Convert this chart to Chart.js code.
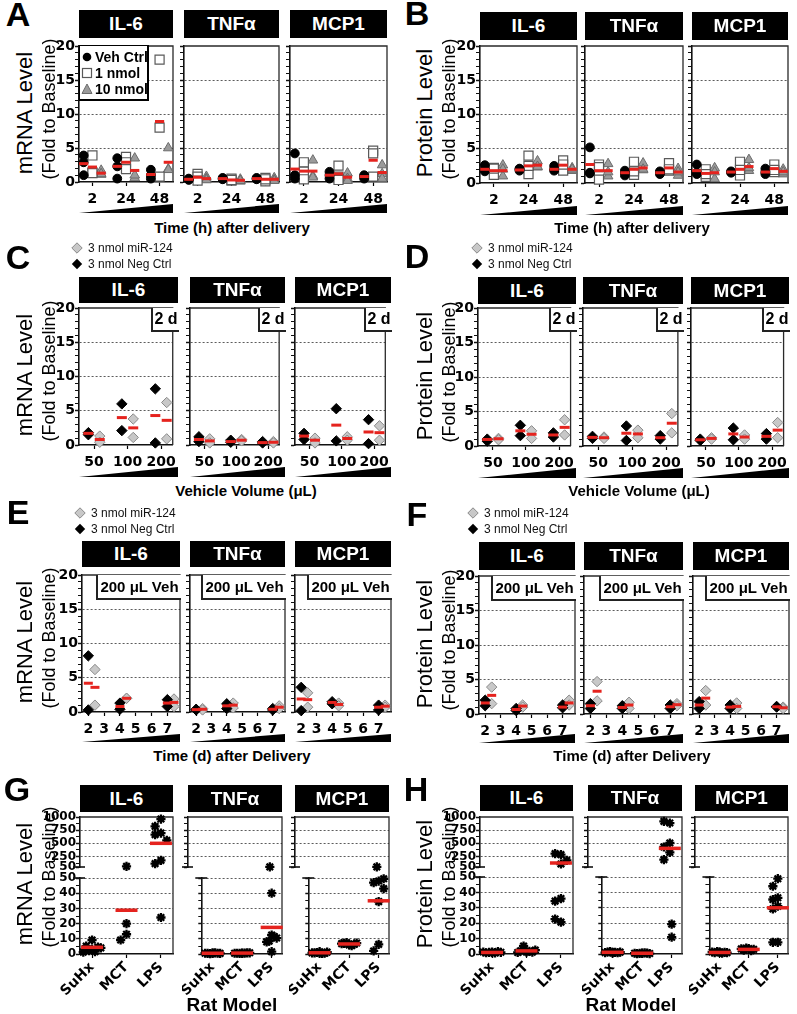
<!DOCTYPE html>
<html>
<head>
<meta charset="utf-8">
<script src="https://cdn.jsdelivr.net/npm/chart.js@4.4.1/dist/chart.umd.min.js"></script>
<style>
  body { margin: 0; background: #fff; font-family: 'Liberation Sans', Arial, Helvetica, sans-serif; }
  #fig { position: relative; width: 797px; height: 1014px; overflow: hidden; background: #fff; }
  #fig canvas { position: absolute; }
  .hdr { position: absolute; background: #000; color: #fff; font-weight: bold; font-size: 19px;
         display: flex; align-items: center; justify-content: center; }
  .letter { position: absolute; font-weight: bold; font-size: 34px; line-height: 1; transform: translate(-50%, -50%); }
  .ytitle { position: absolute; white-space: nowrap; line-height: 1; transform: translate(-50%, -50%) rotate(-90deg); }
  .xtitle { position: absolute; white-space: nowrap; font-weight: bold; font-size: 15px; line-height: 1; transform: translate(-50%, -50%); }
  .tag { position: absolute; background: #fff; border-left: 2px solid #222; border-bottom: 2px solid #222;
         font-weight: bold; font-size: 16px; display: flex; align-items: center; justify-content: center; box-sizing: border-box; }
  .lg { position: absolute; font-size: 12px; white-space: nowrap; line-height: 1; color: #111; }
  .lgrow { position: absolute; font-weight: bold; font-size: 14px; line-height: 1; white-space: nowrap; }
</style>
</head>
<body>
<div id="fig"></div>
<script>
// ---- data ----
const cytokines = ['IL-6', 'TNFα', 'MCP1'];
const hourLabels = ['2', '24', '48'];
const doseNames = ['Veh Ctrl', '1 nmol', '10 nmol'];
const volumeLabels = ['50', '100', '200'];
const treatNames = ['3 nmol miR-124', '3 nmol Neg Ctrl'];
const dayValues = [2, 4, 7];
const dayTicks = [2, 3, 4, 5, 6, 7];
const modelLabels = ['SuHx', 'MCT', 'LPS'];
const foldTicks = [0, 1, 2, 3, 4, 5, 6, 7, 8, 9, 10, 11, 12, 13, 14, 15, 16, 17, 18, 19, 20];
const foldMajor = [0, 5, 10, 15, 20];
const lowTicks = [0, 5, 10, 15, 20, 25, 30, 35, 40, 45, 50];
const lowMajor = [0, 10, 20, 30, 40, 50];
const highTicks = [50, 125, 250, 375, 500, 625, 750, 875, 1000];
const highMajor = [50, 250, 500, 750, 1000];

// A / B: [cytokine][time 2,24,48 h][Veh Ctrl, 1 nmol, 10 nmol] -> replicates
const mrnaTimePts = [
  [[[3.9, 2.9, 1.0], [3.9, 1.4, 1.3], [1.7, 1.1, 1.2]],
   [[3.5, 2.3, 0.5], [3.7, 2.9, 1.9], [3.5, 0.6, 1.0]],
   [[1.8, 0.5, 1.0], [18.0, 8.0, 0.8], [5.0, 1.9, 1.8]]],
  [[[0.5, 0.3, 0.4], [1.2, 0.8, 0.2], [0.8, 0.5, 0.3]],
   [[0.6, 0.5, 0.4], [0.5, 0.2, 0.3], [0.4, 0.1, 0.2]],
   [[0.6, 0.5, 0.4], [0.6, 0.1, 0.4], [0.6, 0.3, 0.2]]],
  [[[4.2, 1.0, 0.5], [2.9, 1.5, 0.4], [3.2, 0.9, 0.7]],
   [[1.5, 1.0, 0.5], [2.4, 0.8, 0.3], [1.3, 0.5, 0.2]],
   [[1.0, 0.8, 0.5], [4.6, 4.2, 0.8], [2.5, 1.2, 0.5]]]
];
const mrnaTimeMean = [
  [[2.7, 2.2, 1.3], [2.3, 2.9, 1.7], [1.1, 8.9, 2.9]],
  [[0.4, 0.7, 0.5], [0.5, 0.3, 0.25], [0.5, 0.4, 0.4]],
  [[1.9, 1.6, 1.6], [1.0, 1.2, 0.7], [0.8, 3.2, 1.4]]
];
const protTimePts = [
  [[[2.6, 1.7, 2.0], [2.2, 1.2, 2.1], [2.6, 1.0, 2.0]],
   [[2.1, 1.8, 2.0], [4.0, 1.3, 2.5], [3.2, 2.3, 2.4]],
   [[2.5, 1.8, 2.0], [3.3, 1.8, 2.7], [2.2, 1.8, 2.0]]],
  [[[5.2, 1.5, 1.4], [2.7, 0.5, 2.3], [2.8, 1.0, 1.6]],
   [[1.8, 1.1, 1.5], [3.1, 1.2, 1.7], [2.9, 1.9, 2.0]],
   [[1.7, 1.3, 1.5], [2.9, 1.8, 2.0], [2.1, 1.1, 1.6]]],
  [[[2.7, 1.3, 1.5], [2.0, 0.9, 1.3], [2.2, 0.6, 1.6]],
   [[1.7, 1.5, 1.6], [3.1, 1.1, 1.9], [3.4, 1.8, 2.2]],
   [[2.1, 1.3, 1.6], [2.7, 1.6, 1.9], [2.0, 1.3, 1.6]]]
];
const protTimeMean = [
  [[2.0, 1.8, 1.8], [1.9, 2.5, 2.6], [2.0, 2.6, 2.0]],
  [[2.7, 1.8, 1.8], [1.5, 2.0, 2.2], [1.5, 2.2, 1.6]],
  [[1.8, 1.4, 1.5], [1.6, 2.0, 2.4], [1.6, 2.1, 1.7]]
];

// C / D: [cytokine][volume 50,100,200 uL][Neg Ctrl, miR-124]
const mrnaVolPts = [
  [[[1.8, 1.5], [1.3, 0.4]], [[6.0, 2.1], [3.8, 1.1]], [[8.2, 0.3], [6.2, 0.9]]],
  [[[1.2, 0.5], [0.9, 0.3]], [[0.7, 0.4], [0.8, 0.6]], [[0.5, 0.3], [0.5, 0.3]]],
  [[[1.7, 0.8], [1.0, 0.3]], [[5.3, 0.6], [1.2, 0.7]], [[3.7, 0.2], [2.8, 0.7]]]
];
const mrnaVolMean = [
  [[1.7, 0.8], [4.0, 2.5], [4.3, 3.6]],
  [[0.8, 0.6], [0.5, 0.7], [0.35, 0.4]],
  [[1.3, 0.7], [2.9, 0.95], [1.9, 1.8]]
];
const protVolPts = [
  [[[1.0, 0.7], [1.1, 0.9]], [[3.0, 1.5], [2.2, 1.1]], [[1.9, 1.3], [3.8, 1.6]]],
  [[[1.4, 1.1], [1.3, 1.1]], [[2.9, 0.8], [2.3, 1.2]], [[1.5, 1.0], [4.7, 1.9]]],
  [[[1.0, 0.8], [1.2, 1.0]], [[2.6, 0.9], [1.6, 1.0]], [[1.8, 1.0], [3.4, 1.2]]]
];
const protVolMean = [
  [[0.95, 1.05], [2.2, 1.7], [1.6, 2.7]],
  [[1.25, 1.2], [1.85, 1.75], [1.2, 3.3]],
  [[0.9, 1.1], [1.75, 1.3], [1.4, 2.3]]
];

// E / F: [cytokine][day 2,4,7][Neg Ctrl, miR-124]
const mrnaDayPts = [
  [[[8.2, 0.3], [6.2, 1.0]], [[1.3, 0.4], [2.0, 2.0]], [[1.8, 0.8], [1.9, 0.8]]],
  [[[0.4, 0.3], [0.5, 0.3]], [[1.2, 0.5], [1.3, 0.6]], [[0.5, 0.3], [0.9, 0.5]]],
  [[[3.6, 0.2], [2.8, 0.7]], [[1.5, 1.2], [1.3, 0.9]], [[1.0, 0.3], [1.0, 0.7]]]
];
const mrnaDayMean = [
  [[4.2, 3.6], [0.8, 2.0], [1.3, 1.4]],
  [[0.35, 0.4], [0.9, 1.0], [0.4, 0.7]],
  [[1.9, 1.8], [1.4, 1.1], [0.7, 0.85]]
];
const protDayPts = [
  [[[2.0, 1.2], [3.9, 1.5]], [[0.8, 0.5], [1.3, 1.0]], [[1.3, 0.9], [2.0, 1.3]]],
  [[[1.5, 0.8], [4.7, 1.9]], [[1.2, 0.8], [1.7, 0.8]], [[1.3, 0.8], [1.5, 1.2]]],
  [[[1.8, 0.8], [3.4, 1.3]], [[1.3, 0.8], [1.6, 0.8]], [[1.1, 1.0], [1.0, 0.8]]]
];
const protDayMean = [
  [[1.6, 2.7], [0.65, 1.15], [1.0, 1.6]],
  [[1.2, 3.3], [0.95, 1.3], [1.05, 1.35]],
  [[1.3, 2.3], [1.0, 1.1], [1.05, 0.9]]
];

// G / H: [cytokine][SuHx, MCT, LPS] -> animals
const mrnaModelPts = [
  [[9.2, 5.2, 4.5, 3.0, 2.2, 1.5, 1.2, 4.0], [63, 20, 13, 9.2], [961, 822, 695, 664, 556, 177, 113, 24]],
  [[0.6, 0.4, 0.5, 0.3, 0.7, 0.5, 0.4, 0.6], [0.6, 0.5, 0.7, 0.4, 0.6, 0.5, 0.8, 0.5], [52, 40, 12.5, 8, 10.5, 8.5, 11.5, 1.5]],
  [[1.5, 0.8, 0.5, 1.0, 0.4, 0.7, 1.2, 0.6], [6.0, 7.0, 6.5, 7.5, 5.5, 6.8, 7.2, 6.3], [52, 48, 47, 49.5, 43, 34.5, 6.3, 2.0]]
];
const mrnaModelMean = [[4.4, 28.8, 500], [0.5, 0.6, 17.5], [0.8, 6.6, 35]];
const protModelPts = [
  [[1.2, 0.8, 1.5, 1.0, 0.7, 1.3, 1.1, 0.9], [1.5, 2.0, 1.2, 5.2, 1.8, 1.0, 2.5, 1.3], [284, 303, 177, 107, 36, 34.3, 20.7, 22.7]],
  [[1.0, 1.3, 0.8, 1.5, 1.1, 0.9, 1.2, 0.7], [0.5, 0.3, 0.6, 0.4, 0.7, 0.5, 0.3, 0.6], [885, 917, 506, 430, 328, 189, 19.4, 10.9]],
  [[1.2, 0.8, 1.0, 1.5, 0.6, 1.3, 0.9, 1.1], [3.5, 2.5, 3.0, 3.8, 2.2, 3.3], [48.9, 44, 36.5, 35.4, 31, 29.3, 7.6, 7.6]]
];
const protModelMean = [[1.0, 2.0, 126], [1.1, 0.5, 404], [1.0, 3.0, 30]];

// ---- styles / layout ----
const TICKFONT = "'DejaVu Sans', 'Liberation Sans', Arial, sans-serif";
const RED = '#e5231e';
const STY = {
  veh:  { ps: 'circle',   r: 4.4, bg: '#000',    bd: '#000',    bw: 1 },
  low:  { ps: 'rect',     r: 6.4, bg: '#fff',    bd: '#5a5a5a', bw: 1.2 },
  high: { ps: 'triangle', r: 5.6, bg: '#9b9b9b', bd: '#6c6c6c', bw: 1 },
  neg:  { ps: 'rectRot',  r: 5.2, bg: '#000',    bd: '#000',    bw: 1 },
  mir:  { ps: 'rectRot',  r: 5.2, bg: '#c8c8c8', bd: '#8a8a8a', bw: 1 },
  star: { ps: 'star',     r: 4.6, bg: '#000',    bd: '#000',    bw: 2.3 }
};

const LAY = {
  A: { xs: [[79, 173], [184, 279], [290, 387]], top: 46, bot: 182, hdr: [10, 38], wedge: [213, 9], title: [232, 227], cy: 113, cy2: 109, col: 0, letter: [18, 14] },
  B: { xs: [[480, 577], [585, 683], [692, 788]], top: 46, bot: 183, hdr: [12, 40], wedge: [215, 9], title: [632, 227], cy: 113, cy2: 109, col: 1, letter: [417, 13] },
  C: { xs: [[79, 178], [190, 285], [295, 391]], top: 308, bot: 445, hdr: [277, 303], wedge: [477, 10], title: [246, 490], cy: 375, cy2: 371, col: 0, letter: [18, 257] },
  D: { xs: [[478, 576], [583, 683], [691, 789]], top: 308, bot: 446, hdr: [277, 304], wedge: [478, 10], title: [639, 490], cy: 376, cy2: 372, col: 1, letter: [417, 256] },
  E: { xs: [[82, 180], [190, 285], [295, 391]], top: 575, bot: 712, hdr: [541, 567], wedge: [742, 8], title: [232, 755], cy: 642, cy2: 638, col: 0, letter: [18, 512] },
  F: { xs: [[479, 575], [584, 683], [693, 789]], top: 576, bot: 714, hdr: [542, 570], wedge: [743, 9], title: [632, 755], cy: 644, cy2: 640, col: 1, letter: [417, 514] },
  G: { xs: [[80, 173], [188, 282], [295, 389]], upTop: 817, upBot: 867, top: 878, bot: 954, hdr: [785, 812], title: [232, 1004], cy: 884, cy2: 877, col: 0, letter: [17, 789] },
  H: { xs: [[480, 573], [588, 682], [695, 788]], upTop: 817, upBot: 867, top: 877, bot: 954, hdr: [785, 811], title: [631, 1004], cy: 884, cy2: 877, col: 1, letter: [416, 789] }
};

const fig = document.getElementById('fig');

function div(cls, css, html) {
  const d = document.createElement('div');
  if (cls) d.className = cls;
  Object.assign(d.style, css);
  if (html !== undefined) d.innerHTML = html;
  fig.appendChild(d);
  return d;
}

// plot frame (top / right) and broken-axis caps
const framePlugin = {
  id: 'frame',
  beforeDatasetsDraw(chart, args, opts) {
    const a = chart.chartArea, ctx = chart.ctx;
    ctx.save();
    ctx.strokeStyle = '#2a2a2a';
    ctx.lineWidth = 1.3;
    ctx.beginPath();
    if (opts.top) { ctx.moveTo(a.left, a.top); ctx.lineTo(a.right + 0.65, a.top); }
    if (opts.right) { ctx.moveTo(a.right, a.top); ctx.lineTo(a.right, a.bottom + (opts.ext || 0)); }
    ctx.stroke();
    ctx.strokeStyle = '#111';
    ctx.lineWidth = 1.6;
    ctx.beginPath();
    if (opts.capTop) { ctx.moveTo(a.left - 7, a.top); ctx.lineTo(a.left + 5, a.top); }
    if (opts.capBottom) { ctx.moveTo(a.left - 7, a.bottom); ctx.lineTo(a.left + 5, a.bottom); }
    ctx.stroke();
    ctx.restore();
  }
};

function pointSet(data, st) {
  return { data, showLine: false, clip: false, pointStyle: st.ps, pointRadius: st.r,
           pointBackgroundColor: st.bg, pointBorderColor: st.bd, pointBorderWidth: st.bw };
}
function meanSet(data, r, w) {
  return { data, showLine: false, clip: false, pointStyle: 'line', pointRadius: r,
           pointBorderColor: RED, pointBackgroundColor: RED, pointBorderWidth: w || 3 };
}

function makeChart(o) {
  const W = Math.round(o.yw + o.w + o.pr), H = Math.round(o.pt + o.h + o.xh + o.pb);
  const cv = document.createElement('canvas');
  cv.width = W; cv.height = H;
  Object.assign(cv.style, { left: (o.l - o.yw) + 'px', top: (o.t - o.pt) + 'px', width: W + 'px', height: H + 'px' });
  fig.appendChild(cv);
  return new Chart(cv.getContext('2d'), {
    type: 'scatter',
    data: { datasets: o.datasets },
    plugins: [framePlugin],
    options: {
      responsive: false,
      animation: false,
      devicePixelRatio: 1,
      events: [],
      layout: { autoPadding: false, padding: { top: o.pt, right: o.pr, bottom: o.pb, left: 0 } },
      plugins: { legend: { display: false }, tooltip: { enabled: false }, frame: o.frame },
      scales: {
        x: {
          type: 'linear', display: o.xShow !== false, min: o.xMin, max: o.xMax,
          afterBuildTicks: s => { s.ticks = o.xTicks.map(v => ({ value: v })); },
          afterFit: s => { s.height = o.xh; },
          ticks: {
            autoSkip: false, minRotation: o.rot || 0, maxRotation: o.rot || 0, padding: o.xPad, color: '#000',
            font: { family: TICKFONT, size: o.xFont || 14, weight: 'bold' },
            callback: (v, i) => o.xLabels[i]
          },
          grid: { drawOnChartArea: false, tickLength: 4, tickColor: '#000', tickWidth: 1.2 },
          border: { color: '#111', width: 1.6 }
        },
        y: {
          type: 'linear', min: o.yMin, max: o.yMax,
          afterBuildTicks: s => { s.ticks = o.yTicks.map(v => ({ value: v })); },
          afterFit: s => { s.width = o.yw; },
          ticks: {
            display: o.yLabelsShow, autoSkip: false, padding: 0, color: '#000',
            font: { family: TICKFONT, size: o.yFont, weight: 'bold' },
            callback: v => (o.yMajor.includes(v) ? String(v) : '')
          },
          grid: {
            color: c => (c.tick && o.yGrid.includes(c.tick.value)) ? '#4a4a4a' : 'rgba(0,0,0,0)',
            lineWidth: 0.9,
            tickLength: 4,
            tickColor: '#111',
            tickWidth: c => (c.tick && o.yMajor.includes(c.tick.value)) ? 1.5 : 1
          },
          border: { color: '#111', width: 1.6, dash: [2, 2] }
        }
      }
    }
  });
}

// panels A-F: 0-20 fold scatter with group means
function buildFold(key, pts, means, opt) {
  const L = LAY[key];
  cytokines.forEach((cyt, c) => {
    const [x0, x1] = L.xs[c];
    const subData = opt.styles.map(() => []);
    const meanData = [];
    pts[c].forEach((grp, g) => grp.forEach((vals, s) => {
      const x = opt.subX(g, s);
      vals.forEach(v => subData[s].push({ x, y: v }));
      meanData.push({ x, y: means[c][g][s] });
    }));
    const datasets = [meanSet(meanData, opt.meanR)].concat(subData.map((d, s) => pointSet(d, STY[opt.styles[s]])));
    makeChart({
      l: x0, t: L.top, w: x1 - x0, h: L.bot - L.top, yw: c === 0 ? 40 : 6, pt: 10, pr: 3, pb: 0, xh: 32,
      xMin: opt.xMin, xMax: opt.xMax, xTicks: opt.xTicks, xLabels: opt.xLabels, xPad: 5, xFont: opt.xFont,
      yMin: 0, yMax: 20, yTicks: foldTicks, yMajor: foldMajor, yGrid: [5, 10, 15], yLabelsShow: c === 0, yFont: 14,
      datasets, frame: { top: true, right: true }
    });
  });
}

// horizontal spread of overlapping animals inside one group
function spread(vals, g, thr) {
  const slots = [0, -1, 1, -0.5, 0.5, -1.5, 1.5];
  const placed = [];
  return vals.map(v => {
    const near = placed.filter(p => Math.abs(p.y - v) < thr);
    let off = 0;
    for (const s of slots) {
      if (!near.some(p => p.o === s)) { off = s; break; }
    }
    placed.push({ y: v, o: off });
    return { x: g + off * 0.17, y: v };
  });
}

// panels G-H: broken y axis (0-50 / 50-1000)
function buildBroken(key, pts, means) {
  const L = LAY[key];
  cytokines.forEach((cyt, c) => {
    const [x0, x1] = L.xs[c];
    const segs = [
      { lo: 50, hi: 1000, t: L.upTop, b: L.upBot, upper: true },
      { lo: 0, hi: 50, t: L.top, b: L.bot, upper: false }
    ];
    segs.forEach(sg => {
      const inSeg = v => (sg.upper ? v > 50 : v <= 50);
      const thr = (sg.hi - sg.lo) / (sg.b - sg.t) * 8;
      let stars = [];
      const meanData = [];
      pts[c].forEach((vals, g) => {
        stars = stars.concat(spread(vals.filter(inSeg), g, thr));
        if (inSeg(means[c][g])) meanData.push({ x: g, y: means[c][g] });
      });
      const base = {
        l: x0, t: sg.t, w: x1 - x0, h: sg.b - sg.t, yw: c === 0 ? 40 : 6, pr: 3,
        xMin: -0.35, xMax: 2.35, xTicks: [0, 1, 2], xLabels: modelLabels, yLabelsShow: c === 0, yFont: 12,
        datasets: [meanSet(meanData, 11, 3.5), pointSet(stars, STY.star)]
      };
      if (sg.upper) {
        makeChart(Object.assign(base, {
          pt: 8, pb: L.top - L.upBot + 2, xh: 0, xShow: false,
          yMin: 50, yMax: 1000, yTicks: highTicks, yMajor: highMajor, yGrid: [250, 500, 750],
          frame: { top: true, right: true, ext: L.top - L.upBot, capBottom: true }
        }));
      } else {
        makeChart(Object.assign(base, {
          pt: 8, pb: 0, xh: 50, rot: 45, xPad: 1, xFont: 14,
          yMin: 0, yMax: 50, yTicks: lowTicks, yMajor: lowMajor, yGrid: [10, 20, 30, 40, 50],
          frame: { right: true, capTop: true }
        }));
      }
    });
  });
}

const timeOpt = { styles: ['veh', 'low', 'high'], subX: (g, s) => g + (s - 1) * 0.26, meanR: 4.6,
                  xMin: -0.4, xMax: 2.4, xTicks: [0, 1, 2], xLabels: hourLabels, xFont: 14 };
const volOpt = { styles: ['neg', 'mir'], subX: (g, s) => g + (s === 0 ? -0.17 : 0.17), meanR: 5,
                 xMin: -0.45, xMax: 2.35, xTicks: [0, 1, 2], xLabels: volumeLabels, xFont: 14 };
const dayOpt = { styles: ['neg', 'mir'], subX: (g, s) => dayValues[g] + (s === 0 ? 0 : 0.42), meanR: 4.5,
                 xMin: 1.6, xMax: 7.8, xTicks: dayTicks, xLabels: dayTicks.map(String), xFont: 14 };

buildFold('A', mrnaTimePts, mrnaTimeMean, timeOpt);
buildFold('B', protTimePts, protTimeMean, timeOpt);
buildFold('C', mrnaVolPts, mrnaVolMean, volOpt);
buildFold('D', protVolPts, protVolMean, volOpt);
buildFold('E', mrnaDayPts, mrnaDayMean, dayOpt);
buildFold('F', protDayPts, protDayMean, dayOpt);
buildBroken('G', mrnaModelPts, mrnaModelMean);
buildBroken('H', protModelPts, protModelMean);

// ---- text, headers, legends, wedges ----
const xTitles = { A: 'Time (h) after delivery', B: 'Time (h) after delivery', C: 'Vehicle Volume (μL)', D: 'Vehicle Volume (μL)',
                  E: 'Time (d) after Delivery', F: 'Time (d) after Delivery', G: 'Rat Model', H: 'Rat Model' };
const yTitles = { A: 'mRNA Level', C: 'mRNA Level', E: 'mRNA Level', G: 'mRNA Level',
                  B: 'Protein Level', D: 'Protein Level', F: 'Protein Level', H: 'Protein Level' };

let svg = '<svg width="797" height="1014" xmlns="http://www.w3.org/2000/svg">';
Object.keys(LAY).forEach(key => {
  const L = LAY[key];
  div('letter', { left: L.letter[0] + 'px', top: L.letter[1] + 'px' }, key);
  L.xs.forEach(([x0, x1], c) => {
    div('hdr', { left: x0 + 'px', top: L.hdr[0] + 'px', width: (x1 - x0) + 'px', height: (L.hdr[1] - L.hdr[0]) + 'px' }, cytokines[c]);
    if (L.wedge) {
      const [wb, wh] = L.wedge;
      svg += `<polygon points="${x0},${wb} ${x1},${wb} ${x1},${wb - wh}" fill="#000"/>`;
    }
    if (key === 'C' || key === 'D') {
      div('tag', { left: (x1 - 27) + 'px', top: L.top + 'px', width: '28px', height: '24px' }, '2 d');
    }
    if (key === 'E' || key === 'F') {
      div('tag', { left: (x1 - 84) + 'px', top: L.top + 'px', width: '85px', height: '25px', fontSize: '15px' }, '200 μL Veh');
    }
  });
  const big = key === 'G' || key === 'H';
  div('xtitle', { left: L.title[0] + 'px', top: L.title[1] + 'px', fontSize: big ? '19px' : '15px' }, xTitles[key]);
  const bx = L.col === 0 ? 0 : 400;
  div('ytitle', { left: (bx + 25) + 'px', top: L.cy + 'px', fontSize: '22px' }, yTitles[key]);
  div('ytitle', { left: (bx + 49) + 'px', top: L.cy2 + 'px', fontSize: '18px' }, '(Fold to Baseline)');
});
svg += '</svg>';
div('', { position: 'absolute', left: '0px', top: '0px', width: '797px', height: '1014px', pointerEvents: 'none' }, svg);

// legend of panel A
const lgA = div('', { position: 'absolute', left: '79px', top: '45px', width: '70px', height: '56px', background: '#fff',
                      borderRight: '2px solid #000', borderBottom: '2px solid #000', borderTop: '1.5px solid #000', borderLeft: '1.5px solid #000', boxSizing: 'border-box' });
const lgSyms = [
  '<svg width="12" height="12"><circle cx="6" cy="6" r="4.3" fill="#000"/></svg>',
  '<svg width="12" height="12"><rect x="1.5" y="1.5" width="9" height="9" fill="#fff" stroke="#5a5a5a" stroke-width="1.2"/></svg>',
  '<svg width="12" height="12"><polygon points="6,1 11,10.5 1,10.5" fill="#9b9b9b" stroke="#6c6c6c"/></svg>'
];
doseNames.forEach((name, i) => {
  const row = document.createElement('div');
  row.className = 'lgrow';
  Object.assign(row.style, { left: '1px', top: (4 + i * 16) + 'px', display: 'flex', alignItems: 'center', gap: '2px' });
  row.innerHTML = lgSyms[i] + '<span>' + name + '</span>';
  lgA.appendChild(row);
});

// treatment legends of panels C-F
const treatLegendPos = { C: [77, 248], D: [477, 248], E: [80, 513], F: [473, 513] };
const treatSyms = [
  '<svg width="12" height="12"><polygon points="6,0.8 11.2,6 6,11.2 0.8,6" fill="#c8c8c8" stroke="#8a8a8a"/></svg>',
  '<svg width="12" height="12"><polygon points="6,0.8 11.2,6 6,11.2 0.8,6" fill="#000"/></svg>'
];
Object.keys(treatLegendPos).forEach(key => {
  const [cx, cy] = treatLegendPos[key];
  treatNames.forEach((name, i) => {
    div('lg', { left: (cx - 6) + 'px', top: (cy - 6 + i * 16) + 'px', display: 'flex', alignItems: 'center', gap: '5px' },
        treatSyms[i] + '<span>' + name + '</span>');
  });
});
</script>
</body>
</html>
